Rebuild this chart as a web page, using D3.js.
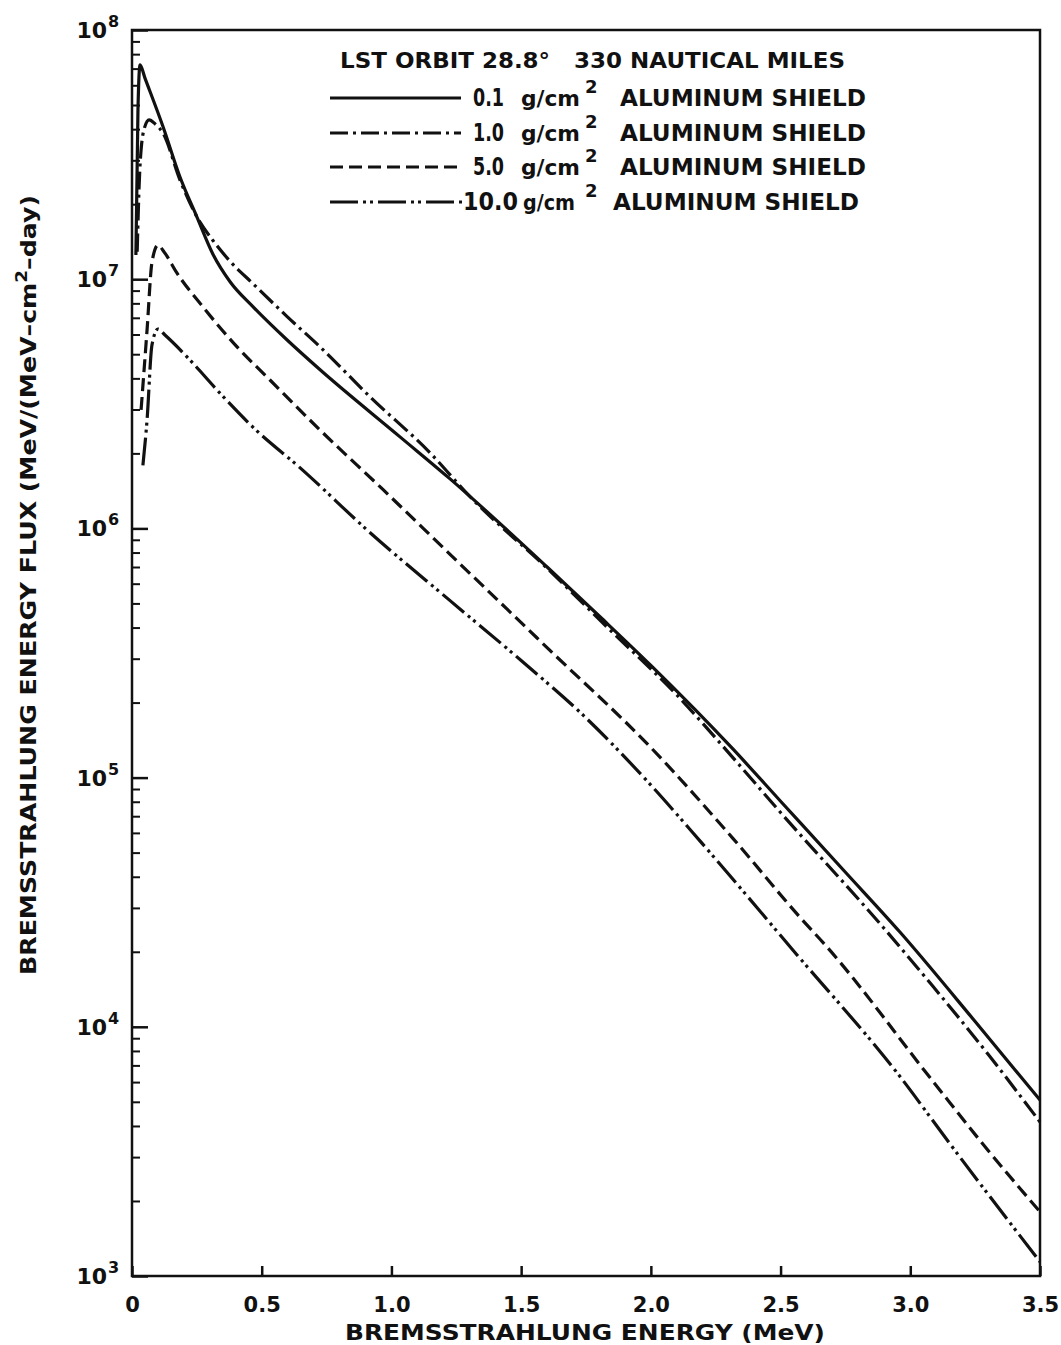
<!DOCTYPE html>
<html>
<head>
<meta charset="utf-8">
<script src="https://d3js.org/d3.v7.min.js"></script>
<style>
    body { margin: 0; background: #fff; }
    svg { display: block; font-family: 'DejaVu Sans', sans-serif; font-weight: bold; }
    .curve { fill: none; stroke: #111; stroke-width: 3.2; }
</style>
</head>
<body>
<div id="chart"></div>
<script>
// bremsstrahlung energy (MeV) vs energy flux, one pair of arrays per shield
const energy01 = [0.015, 0.023, 0.031, 0.05, 0.12, 0.185, 0.25, 0.312, 0.378, 0.466, 0.598, 0.725, 1.033, 1.226, 1.6, 1.804, 2.0, 2.317, 2.5, 2.75, 2.96, 3.25, 3.5]
const flux01 = [1.25e7, 4.78e7, 7.24e7, 6.41e7, 4.08e7, 2.57e7, 1.78e7, 1.26e7, 9.77e6, 7.76e6, 5.70e6, 4.33e6, 2.33e6, 1.58e6, 7.0e5, 4.42e5, 2.82e5, 1.30e5, 8.04e4, 4.17e4, 2.40e4, 1.05e4, 5.08e3]

const energy10 = [0.02, 0.03, 0.046, 0.066, 0.089, 0.12, 0.185, 0.25, 0.312, 0.378, 0.466, 0.598, 0.725, 0.918, 1.149, 1.3, 1.6, 1.831, 2.101, 2.317, 2.5, 2.895, 3.088, 3.3, 3.5]
const flux10 = [1.29e7, 2.74e7, 3.98e7, 4.36e7, 4.2e7, 3.85e7, 2.5e7, 1.78e7, 1.43e7, 1.18e7, 9.6e6, 7.08e6, 5.35e6, 3.37e6, 2.01e6, 1.35e6, 6.92e5, 4.02e5, 2.14e5, 1.2e5, 7.24e4, 2.51e4, 1.45e4, 7.76e3, 4.15e3]

const energy50 = [0.035, 0.058, 0.077, 0.1, 0.123, 0.173, 0.274, 0.405, 0.532, 0.725, 0.968, 1.226, 1.446, 1.611, 1.997, 2.317, 2.575, 2.679, 3.088, 3.3, 3.5]
const flux50 = [2.99e6, 6.25e6, 1.17e7, 1.37e7, 1.29e7, 1.06e7, 7.73e6, 5.35e6, 3.94e6, 2.48e6, 1.43e6, 7.87e5, 4.74e5, 3.24e5, 1.33e5, 5.69e4, 2.75e4, 2.09e4, 6.03e3, 3.19e3, 1.81e3]

const energy100 = [0.042, 0.058, 0.077, 0.1, 0.127, 0.212, 0.339, 0.466, 0.659, 0.906, 1.226, 1.5, 1.739, 2.0, 2.19, 2.548, 2.961, 3.153, 3.5]
const flux100 = [1.79e6, 2.72e6, 5.45e6, 6.31e6, 5.97e6, 4.88e6, 3.49e6, 2.55e6, 1.71e6, 9.86e5, 5.13e5, 2.95e5, 1.78e5, 9.33e4, 5.56e4, 2.03e4, 6.30e3, 3.39e3, 1.14e3]

const shieldLabels = ['0.1', '1.0', '5.0', '10.0']
const xTicks = [0, 0.5, 1.0, 1.5, 2.0, 2.5, 3.0, 3.5]
const yExponents = [3, 4, 5, 6, 7, 8]

const w = 1061
const h = 1345
const padLeft = 132, padRight = 1040, padTop = 30, padBottom = 1276

const series = [
    { label: shieldLabels[0], dash: null, pts: d3.zip(energy01, flux01) },
    { label: shieldLabels[1], dash: '18,5,3,5', pts: d3.zip(energy10, flux10) },
    { label: shieldLabels[2], dash: '13,6', pts: d3.zip(energy50, flux50) },
    { label: shieldLabels[3], dash: '28,5,3,4,3,5', pts: d3.zip(energy100, flux100) }
]

const xScale = d3.scaleLinear().domain([0, 3.5]).range([padLeft, padRight])
const yScale = d3.scaleLog().domain([1e3, 1e8]).range([padBottom, padTop])

const svg = d3.select('#chart').append('svg')
    .attr('width', w)
    .attr('height', h)

svg.append('rect').attr('width', w).attr('height', h).attr('fill', '#fff')

// minor ticks 2..9 on each decade, drawn inward
const minor = []
yExponents.slice(0, -1).forEach(e => {
    for (let k = 2; k <= 9; k++) minor.push(k * Math.pow(10, e))
})
const majors = yExponents.map(e => Math.pow(10, e))

svg.append('g')
    .attr('transform', 'translate(' + padLeft + ',0)')
    .call(d3.axisLeft(yScale).tickValues(minor).tickSize(-8).tickFormat(''))
    .call(g => g.select('.domain').remove())
    .selectAll('line').attr('stroke', '#111').attr('stroke-width', 2)

svg.append('g')
    .attr('transform', 'translate(' + padLeft + ',0)')
    .call(d3.axisLeft(yScale).tickValues(majors).tickSize(-16).tickFormat(''))
    .call(g => g.select('.domain').remove())
    .selectAll('line').attr('stroke', '#111').attr('stroke-width', 2.5)

const xAxis = svg.append('g')
    .attr('transform', 'translate(0,' + padBottom + ')')
    .call(d3.axisBottom(xScale).tickValues(xTicks).tickSize(-10)
        .tickFormat(d => d === 0 ? '0' : d3.format('.1f')(d)))
xAxis.select('.domain').remove()
xAxis.selectAll('line').attr('stroke', '#111').attr('stroke-width', 2.5)
xAxis.selectAll('text')
    .attr('y', 36)
    .attr('dy', null)
    .attr('fill', '#111')
    .style('font-size', '21px')
    .style('font-family', "'DejaVu Sans', sans-serif")
    .style('font-weight', 'bold')

// frame
svg.append('rect')
    .attr('x', padLeft).attr('y', padTop)
    .attr('width', padRight - padLeft).attr('height', padBottom - padTop)
    .attr('fill', 'none').attr('stroke', '#111').attr('stroke-width', 2.5)

// y tick labels 10^n
svg.append('g').selectAll('text')
    .data(yExponents)
    .enter()
    .append('text')
    .attr('x', 107)
    .attr('y', d => yScale(Math.pow(10, d)) + 8)
    .attr('text-anchor', 'end')
    .attr('fill', '#111')
    .style('font-size', '22px')
    .text('10')
svg.append('g').selectAll('text')
    .data(yExponents)
    .enter()
    .append('text')
    .attr('x', 108)
    .attr('y', d => yScale(Math.pow(10, d)) - 3)
    .attr('fill', '#111')
    .style('font-size', '16px')
    .text(d => d)

// curves
const line = d3.line()
    .x(d => xScale(d[0]))
    .y(d => yScale(d[1]))
    .curve(d3.curveMonotoneX)

svg.append('g').selectAll('path')
    .data(series)
    .enter()
    .append('path')
    .attr('class', 'curve')
    .attr('d', d => line(d.pts))
    .attr('stroke-dasharray', d => d.dash)

// legend
const legend = svg.append('g')
legend.append('text')
    .attr('x', 340).attr('y', 68)
    .attr('textLength', 505).attr('lengthAdjust', 'spacingAndGlyphs')
    .attr('fill', '#111')
    .style('font-size', '22px')
    .style('white-space', 'pre')
    .text('LST ORBIT 28.8°   330 NAUTICAL MILES')

const rowY = [98, 133, 167, 202]
const rows = legend.selectAll('.row')
    .data(series)
    .enter()
    .append('g')
    .attr('class', 'row')
    .attr('transform', (d, i) => 'translate(0,' + rowY[i] + ')')

rows.append('line')
    .attr('x1', 330)
    .attr('x2', (d, i) => i === 3 ? 462 : 461)
    .attr('stroke', '#111').attr('stroke-width', 3)
    .attr('stroke-dasharray', d => d.dash)

rows.append('text')
    .attr('x', (d, i) => i === 3 ? 463 : 473)
    .attr('y', 8)
    .attr('textLength', (d, i) => i === 3 ? 55 : 31)
    .attr('lengthAdjust', 'spacingAndGlyphs')
    .attr('fill', '#111')
    .style('font-size', '24px')
    .text(d => d.label)
rows.append('text')
    .attr('x', (d, i) => i === 3 ? 523 : 521)
    .attr('y', 8)
    .attr('textLength', (d, i) => i === 3 ? 52 : 59)
    .attr('lengthAdjust', 'spacingAndGlyphs')
    .attr('fill', '#111')
    .style('font-size', '22px')
    .text('g/cm')
rows.append('text')
    .attr('x', 585)
    .attr('y', -5)
    .attr('fill', '#111')
    .style('font-size', '18px')
    .text('2')
rows.append('text')
    .attr('x', (d, i) => i === 3 ? 613 : 620)
    .attr('y', 8)
    .attr('textLength', 246).attr('lengthAdjust', 'spacingAndGlyphs')
    .attr('fill', '#111')
    .style('font-size', '23px')
    .text('ALUMINUM SHIELD')

// axis titles
svg.append('text')
    .attr('x', 585).attr('y', 1340)
    .attr('text-anchor', 'middle')
    .attr('textLength', 480).attr('lengthAdjust', 'spacingAndGlyphs')
    .attr('fill', '#111')
    .style('font-size', '21px')
    .text('BREMSSTRAHLUNG ENERGY (MeV)')

const yTitle = svg.append('text')
    .attr('transform', 'translate(36,975) rotate(-90)')
    .attr('textLength', 780).attr('lengthAdjust', 'spacingAndGlyphs')
    .attr('fill', '#111')
    .style('font-size', '22px')
yTitle.append('tspan').text('BREMSSTRAHLUNG ENERGY FLUX (MeV/(MeV–cm')
yTitle.append('tspan').attr('dy', -9).style('font-size', '16px').text('2')
yTitle.append('tspan').attr('dy', 9).text('–day)')
</script>
</body>
</html>
